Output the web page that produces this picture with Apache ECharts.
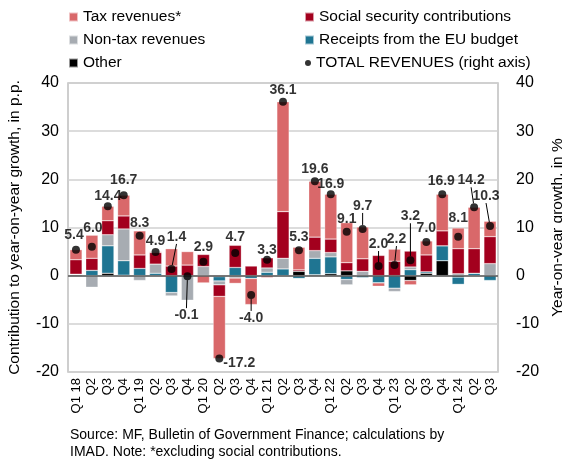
<!DOCTYPE html>
<html>
<head>
<meta charset="utf-8">
<script src="https://cdn.jsdelivr.net/npm/echarts@6/dist/echarts.min.js"></script>
<style>
  html, body { margin: 0; padding: 0; background: #fff; }
  #chart { width: 562px; height: 465px; }
</style>
</head>
<body>
<div id="chart"></div>
<script>
// Quarters, 2018 Q1 – 2024 Q3
const categories = ['Q1 18','Q2','Q3','Q4','Q1 19','Q2','Q3','Q4','Q1 20','Q2','Q3','Q4',
  'Q1 21','Q2','Q3','Q4','Q1 22','Q2','Q3','Q4','Q1 23','Q2','Q3','Q4','Q1 24','Q2','Q3'];

// Contributions to y-o-y growth, p.p.
const otherRev   = [0.2, 0, 0.5, 0.1, 0, -0.1, 0, 0, 0, -0.2, -0.2, 0, 0, 0, 0.9, 0.2, 0.4, 1.0, 0, 0, 0, -1.0, 0.5, 3.1, -0.3, 0, 0];
const euBudget   = [0.1, 1.1, 5.7, 3.0, 1.5, 0.5, -3.5, 0, 0, -0.9, 1.7, -0.6, 0.7, 1.4, -0.6, 3.4, 3.5, -0.8, -0.4, -1.5, -2.6, 1.25, 0.3, 3.1, -1.5, 0.5, -1.0];
const nonTax     = [0, -2.4, 2.3, 6.6, -1.0, 1.9, -0.7, -5.1, 1.9, -0.8, -0.3, 0, 0.9, 2.2, 0, 1.6, 0.9, -1.1, 0.9, 0, -0.7, 0.55, -0.2, 0, 0.4, 0, 2.5];
const socialSec  = [3.0, 2.5, 2.9, 2.7, 2.8, 2.4, 2.0, 2.2, 2.5, -2.4, 4.6, 2.0, 2.1, 9.7, 0.3, 2.8, 2.8, 1.7, 2.6, 4.2, 3.0, 3.3, 3.5, 3.1, 5.2, 5.1, 5.6];
const taxRev     = [2.1, 4.8, 3.0, 4.3, 5.0, 0.2, 3.6, 2.8, -1.5, -12.9, -1.1, -5.4, -0.4, 22.8, 4.7, 11.6, 9.3, 8.3, 6.6, -0.7, 2.5, -0.9, 2.9, 7.6, 4.3, 8.6, 3.2];

// Total revenues, y-o-y growth in %
const totalRev   = [5.4, 6.0, 14.4, 16.7, 8.3, 4.9, 1.4, -0.1, 2.9, -17.2, 4.7, -4.0, 3.3, 36.1, 5.3, 19.6, 16.9, 9.1, 9.7, 2.0, 2.2, 3.2, 7.0, 16.9, 8.1, 14.2, 10.3];

// Value label nudges (px) and which labels get a leader line
const labelDx = [-2, 1, 0, 0, 0, 0, 5, -1, 0, 20, 0, 0, 0, 0, 0, 0, 0, 0, 0, 0, 2, 0, 0, -1, 0, -3, -4];
const labelDy = [0, -4, 5, 0, 2, 4, -17, 54, 0, 20, -1, 38, 5, 3, 2, 3, 5, 2, -8, -7, -11, -29, 1, 2, -4, -12, -15];
const leader  = [0, 0, 0, 0, 0, 0, 1, 1, 0, 0, 0, 1, 0, 0, 0, 0, 0, 0, 1, 1, 1, 1, 0, 0, 0, 1, 1];

const FONT = 'Liberation Sans, Arial, sans-serif';
const colors = {
  tax: '#d9686a',
  social: '#a3001e',
  nontax: '#a7acb2',
  eu: '#1f7592',
  other: '#000000'
};

function barSeries(name, data, color, extra) {
  return Object.assign({
    name: name,
    type: 'bar',
    stack: 'contrib',
    barCategoryGap: '23%',
    data: data,
    itemStyle: { color: color, borderColor: 'rgba(255,255,255,0.6)', borderWidth: 0.5 },
    emphasis: { disabled: true }
  }, extra || {});
}

const chart = echarts.init(document.getElementById('chart'), null, { renderer: 'canvas' });

const legendText = { fontFamily: FONT, fontSize: 15.5, color: '#000', lineHeight: 18 };

chart.setOption({
  animation: false,
  textStyle: { fontFamily: FONT },
  grid: {
    left: 68, right: 64, top: 83, bottom: 93,
    outerBoundsMode: 'none',
    containLabel: false,
    show: true, borderColor: '#bfbfbf', borderWidth: 1.5
  },
  legend: [
    {
      orient: 'vertical', left: 63, top: 3, itemWidth: 9, itemHeight: 9, itemGap: 5,
      icon: 'rect', textStyle: legendText, selectedMode: false,
      data: ['Tax revenues*', 'Non-tax revenues', 'Other']
    },
    {
      orient: 'vertical', left: 299, top: 3, itemWidth: 9, itemHeight: 9, itemGap: 5,
      icon: 'rect', textStyle: legendText, selectedMode: false,
      data: ['Social security contributions', 'Receipts from the EU budget']
    },
    {
      orient: 'vertical', left: 300, top: 49, itemWidth: 6, itemHeight: 6,
      icon: 'circle', textStyle: legendText, selectedMode: false,
      data: ['TOTAL REVENUES (right axis)']
    }
  ],
  xAxis: {
    type: 'category',
    data: categories,
    boundaryGap: true,
    axisLine: { show: false, onZero: false },
    axisTick: { show: false },
    axisLabel: {
      interval: 0, rotate: 90, margin: 6,
      fontFamily: FONT, fontSize: 13, color: '#000'
    }
  },
  yAxis: [
    {
      type: 'value', min: -20, max: 40, interval: 10,
      name: 'Contribution to year-on-year growth, in p.p.',
      nameLocation: 'middle', nameGap: 45,
      nameTextStyle: { fontFamily: FONT, fontSize: 15.5, color: '#000' },
      axisLine: { show: false }, axisTick: { show: false },
      axisLabel: { fontFamily: FONT, fontSize: 16, color: '#000', margin: 9 },
      splitLine: { lineStyle: { color: '#d0d0d0', width: 1.5 } }
    },
    {
      type: 'value', min: -20, max: 40, interval: 10,
      name: 'Year-on-year growth, in %',
      nameLocation: 'middle', nameGap: 43, nameRotate: 90,
      nameTextStyle: { fontFamily: FONT, fontSize: 15.5, color: '#000' },
      axisLine: { show: false }, axisTick: { show: false },
      axisLabel: { fontFamily: FONT, fontSize: 16, color: '#000', margin: 18 },
      splitLine: { show: false }
    }
  ],
  series: [
    barSeries('Other', otherRev, colors.other, {
      markLine: {
        silent: true, symbol: 'none', label: { show: false },
        lineStyle: { color: '#595959', width: 1.5, type: 'solid' },
        data: [{ yAxis: 0 }]
      }
    }),
    barSeries('Receipts from the EU budget', euBudget, colors.eu),
    barSeries('Non-tax revenues', nonTax, colors.nontax),
    barSeries('Social security contributions', socialSec, colors.social),
    barSeries('Tax revenues*', taxRev, colors.tax),
    {
      name: 'TOTAL REVENUES (right axis)',
      type: 'scatter',
      yAxisIndex: 1,
      symbol: 'circle',
      symbolSize: 8,
      z: 10,
      itemStyle: { color: '#000' },
      emphasis: { disabled: true },
      data: totalRev.map((v, i) => ({
        value: [i, v],
        labelLine: { show: !!leader[i] }
      })),
      label: {
        show: true, position: 'top', distance: 4,
        fontFamily: FONT, fontSize: 14, fontWeight: 'bold', color: '#000',
        formatter: p => p.value[1].toFixed(1)
      },
      labelLine: {
        show: false,
        lineStyle: { color: '#000', width: 1 }
      },
      labelLayout: p => ({ dx: labelDx[p.dataIndex], dy: labelDy[p.dataIndex] })
    }
  ],
  graphic: [
    {
      type: 'text', left: 70, top: 427,
      style: {
        text: 'Source: MF, Bulletin of Government Finance; calculations by\nIMAD. Note: *excluding social contributions.',
        fontFamily: FONT, fontSize: 14, lineHeight: 17, fill: '#000'
      }
    }
  ]
});
</script>
</body>
</html>
